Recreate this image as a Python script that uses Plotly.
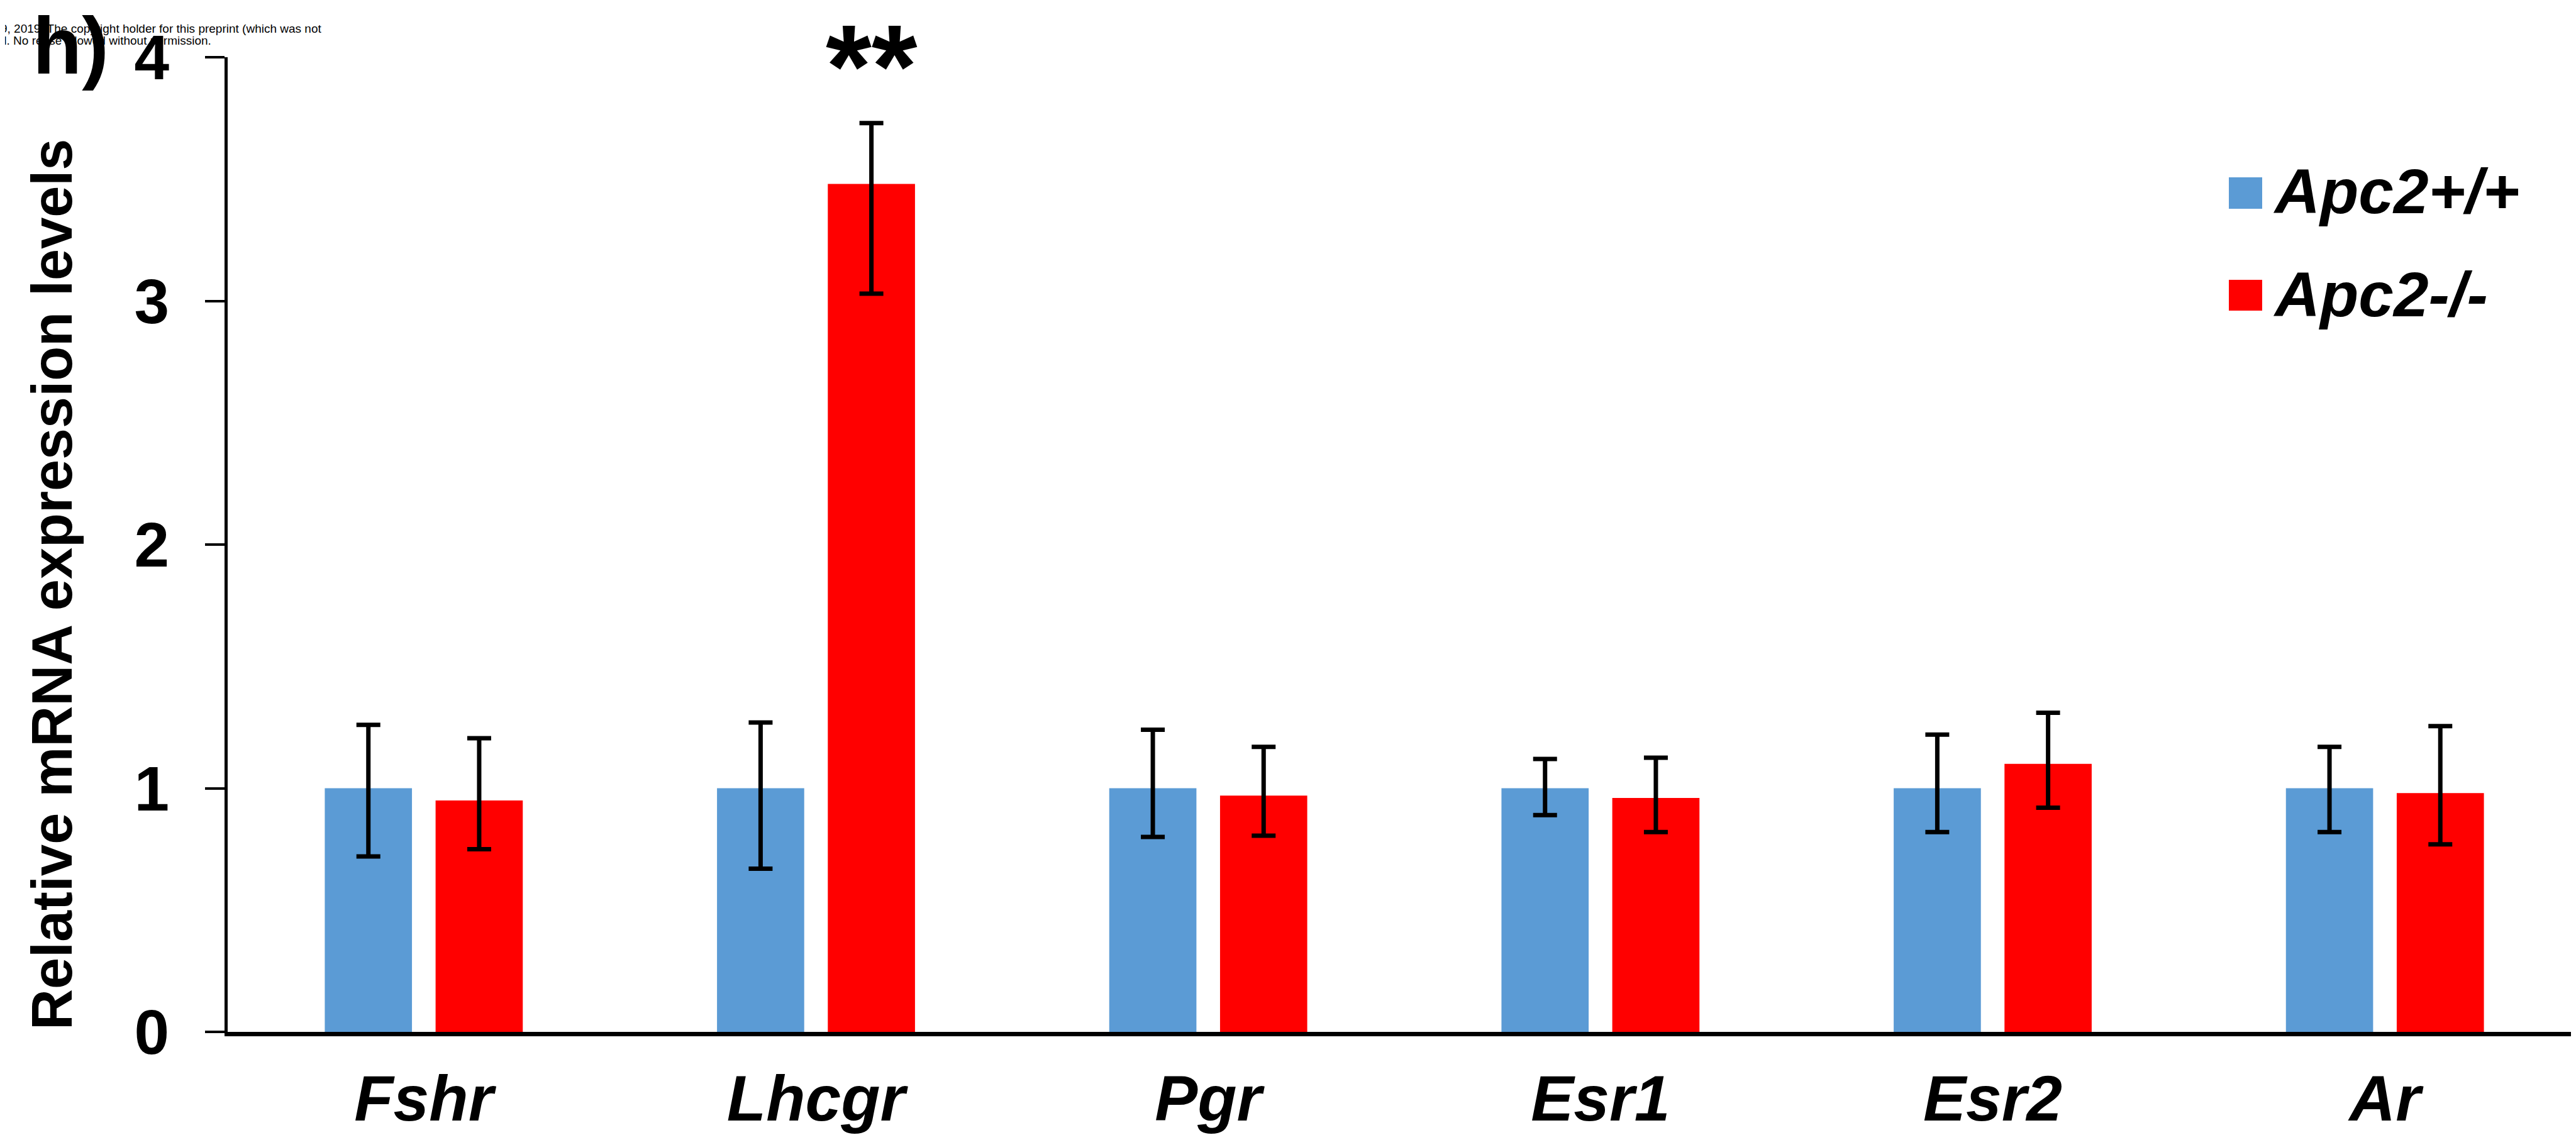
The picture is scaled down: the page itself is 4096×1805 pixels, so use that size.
import plotly.graph_objects as go

# ---------------- data ----------------
genes = ["Fshr", "Lhcgr", "Pgr", "Esr1", "Esr2", "Ar"]
wt_mean = [1.00, 1.00, 1.00, 1.00, 1.00, 1.00]
wt_err_up = [0.26, 0.27, 0.24, 0.12, 0.22, 0.17]
wt_err_dn = [0.28, 0.33, 0.20, 0.11, 0.18, 0.18]
ko_mean = [0.95, 3.48, 0.97, 0.96, 1.10, 0.98]
ko_err_up = [0.255, 0.25, 0.20, 0.165, 0.21, 0.275]
ko_err_dn = [0.20, 0.45, 0.165, 0.14, 0.18, 0.21]
series_names = ["Apc2+/+", "Apc2-/-"]
y_ticks = [0, 1, 2, 3, 4]
y_title = "Relative mRNA expression levels"
panel_label = "h)"
signif_label = "**"
signif_gene = "Lhcgr"
header_lines = ["9, 2019. The copyright holder for this preprint (which was not",
                "d. No reuse allowed without permission."]

# ---------------- layout constants ----------------
W, H = 4096, 1805
ML, MR, MT, MB = 354, 0, 83, 172
PW, PH = W - ML - MR, H - MT - MB
BOTTOM = H - MB

BLUE = "#5B9BD5"
RED = "#FF0000"
FONT = "Liberation Sans, Arial, sans-serif"

def px(xp):
    return (xp - ML) / PW

def py(yp):
    return (BOTTOM - yp) / PH

BAR_W = 0.2223
GAP = 0.0602

err_style = dict(type="data", symmetric=False, color="black", thickness=7, width=19)

fig = go.Figure()
fig.add_trace(go.Bar(
    x=genes, y=wt_mean, name=series_names[0],
    marker=dict(color=BLUE, line=dict(width=0)),
    width=BAR_W, offset=-(BAR_W + GAP / 2),
    error_y=dict(array=wt_err_up, arrayminus=wt_err_dn, **err_style),
    showlegend=False,
))
fig.add_trace(go.Bar(
    x=genes, y=ko_mean, name=series_names[1],
    marker=dict(color=RED, line=dict(width=0)),
    width=BAR_W, offset=GAP / 2,
    error_y=dict(array=ko_err_up, arrayminus=ko_err_dn, **err_style),
    showlegend=False,
))

annotations = []
# y-axis title
annotations.append(dict(
    text=y_title, textangle=-90, xref="paper", yref="paper",
    x=px(75), y=py(922), xanchor="center", yanchor="middle", showarrow=False,
    font=dict(family=FONT, size=90, color="black", weight="bold"),
))
# header watermark text
for i, (line, xr) in enumerate(zip(header_lines, [505, 330])):
    annotations.append(dict(
        text=line, xref="paper", yref="paper",
        x=px(xr), y=py(38 + 18 * i), xanchor="right", yanchor="middle",
        showarrow=False,
        font=dict(family=FONT, size=19, color="black"),
    ))
# panel label
annotations.append(dict(
    text=panel_label, xref="paper", yref="paper",
    x=px(42), y=py(64), xanchor="left", yanchor="middle", showarrow=False,
    font=dict(family=FONT, size=128, color="black", weight="bold"),
))
# significance
sig_idx = genes.index(signif_gene)
annotations.append(dict(
    text=signif_label, xref="x", yref="paper",
    x=sig_idx + GAP / 2 + BAR_W / 2, y=py(98), xanchor="center", yanchor="middle",
    showarrow=False,
    font=dict(family=FONT, size=187, color="black", weight="bold"),
))

# legend (manual)
shapes = []
for name, col, (y0, y1), yc in zip(series_names, [BLUE, RED],
                                   [(274, 324), (437, 486)], [296, 460]):
    shapes.append(dict(type="rect", xref="paper", yref="paper",
                       x0=px(3536), x1=px(3589), y0=py(y1), y1=py(y0),
                       fillcolor=col, line=dict(width=0)))
    annotations.append(dict(
        text=name, xref="paper", yref="paper",
        x=px(3604), y=py(yc), xanchor="left", yanchor="middle", showarrow=False,
        font=dict(family=FONT, size=100, color="black", weight="bold", style="italic"),
    ))

fig.update_layout(
    width=W, height=H,
    margin=dict(l=ML, r=MR, t=MT, b=MB, pad=0),
    paper_bgcolor="white", plot_bgcolor="white",
    barmode="overlay",
    showlegend=False,
    annotations=annotations,
    shapes=shapes,
    xaxis=dict(
        type="category", categoryorder="array", categoryarray=genes,
        range=[-0.5, len(genes) - 0.5],
        showline=True, linecolor="black", linewidth=7,
        ticks="", showgrid=False, zeroline=False, automargin=False,
        tickfont=dict(family=FONT, size=102, color="black", weight="bold", style="italic"),
        ticklabelstandoff=12,
    ),
    yaxis=dict(
        range=[0, 4], tickvals=y_ticks, ticktext=[str(v) for v in y_ticks],
        showline=True, linecolor="black", linewidth=5,
        ticks="outside", ticklen=31, tickwidth=4, tickcolor="black",
        showgrid=False, zeroline=False, automargin=False,
        tickfont=dict(family=FONT, size=100, color="black", weight="bold"),
        ticklabelstandoff=37,
    ),
)

fig.write_html("out.html")
